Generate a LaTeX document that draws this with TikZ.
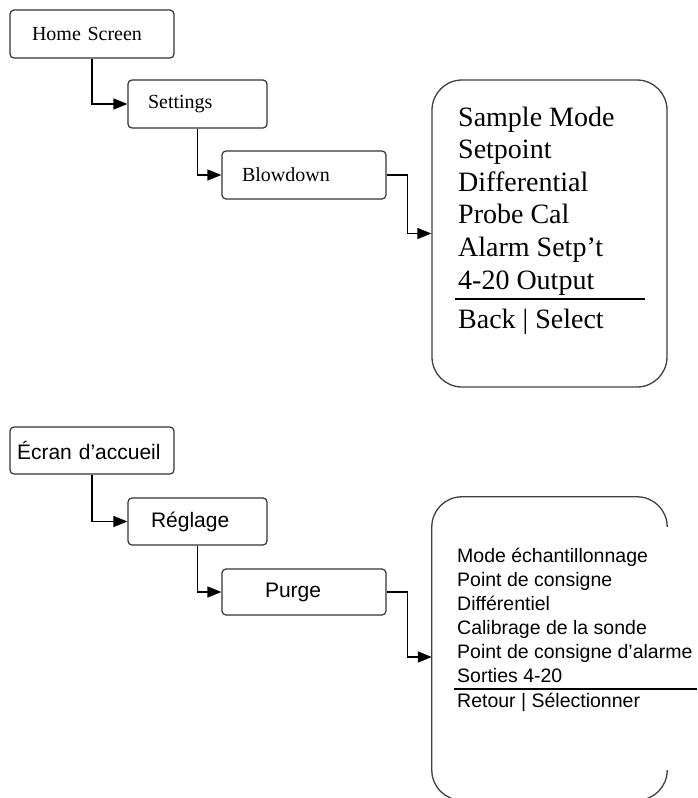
\documentclass[tikz,border=0pt]{standalone}
\usepackage{fontspec}
\setmainfont{Liberation Serif}
\setsansfont{Liberation Sans}
\usetikzlibrary{arrows.meta}

\tikzset{
	scrbox/.style={draw=black!80,line width=1.2pt,rounded corners=4pt,
		minimum height=48pt,inner ysep=0pt,align=left},
	conn/.style={line width=1.4pt,-{Triangle[length=14pt,width=11pt]}},
	menuline/.style={draw=black!75,line width=1.3pt},
	itemen/.style={font=\fontsize{28}{33}\selectfont,anchor=base west,inner sep=0pt},
	itemfr/.style={font=\sffamily\fontsize{19.5}{24}\selectfont,anchor=base west,inner sep=0pt},
}

\begin{document}
\begin{tikzpicture}[x=1pt,y=-1pt,font=\fontsize{20}{24}\selectfont]
	\useasboundingbox[fill=white] (0,0) rectangle (697,798);

	% English menu
	\node[scrbox,text width=120pt,inner xsep=22pt] (home) at (92,34) {Home Screen};
	\node[scrbox,text width=99pt,inner xsep=20pt] (settings) at (197.5,104) {Settings};
	\node[scrbox,text width=124pt,inner xsep=20pt] (blow) at (304,175) {Blowdown};
	\node[menuline,rounded corners=30pt,minimum width=235pt,minimum height=307pt] (menu) at (549.5,233.5) {};
	\foreach \txt [count=\i] in {Sample Mode,Setpoint,Differential,Probe Cal,Alarm Setp’t,4-20 Output}
		\node[itemen] (en\i) at (458,{126+32.6*(\i-1)}) {\txt};
	\node[itemen] (enback) at (458,328) {Back | Select};
	\draw[line width=2.2pt] (455,299) -- (645,299);

	\draw[conn] (home.south) |- (settings.west);
	\draw[conn] (settings.south) |- (blow.west);
	\draw[conn] (blow.east) -- ++(21,0) |- (menu.west);

	% French menu
	\begin{scope}[font=\sffamily\fontsize{21}{25}\selectfont]
		\node[scrbox,minimum height=47pt,text width=150pt,inner xsep=7pt] (accueil) at (92,450.5) {Écran d’accueil};
		\node[scrbox,minimum height=47pt,text width=93pt,inner xsep=23pt] (reglage) at (197.5,521.5) {Réglage};
		\node[scrbox,minimum height=46pt,text width=78pt,inner xsep=43pt] (purge) at (304,592) {Purge};
	\end{scope}
	\node[minimum width=235pt,minimum height=303pt,inner sep=0pt] (menuFr) at (549.5,648.5) {};
	\draw[menuline,rounded corners=30pt] ([yshift=-30pt]menuFr.north east) -- (menuFr.north east)
		-- (menuFr.north west) -- (menuFr.south west) -- (menuFr.south east) -- ([yshift=30pt]menuFr.south east);
	\foreach \txt [count=\i] in {Mode échantillonnage,Point de consigne,Différentiel,Calibrage de la sonde,Point de consigne d’alarme,Sorties 4-20}
		\node[itemfr] (fr\i) at (457,{562+24*(\i-1)}) {\txt};
	\node[itemfr] (frback) at (457,707) {Retour | Sélectionner};
	\draw[line width=1.6pt] (454,689) -- (697,689);

	\draw[conn] (accueil.south) |- (reglage.west);
	\draw[conn] (reglage.south) |- (purge.west);
	\draw[conn] (purge.east) -- ++(21,0) |- ([yshift=-8.5pt]menuFr.west);
\end{tikzpicture}
\end{document}
